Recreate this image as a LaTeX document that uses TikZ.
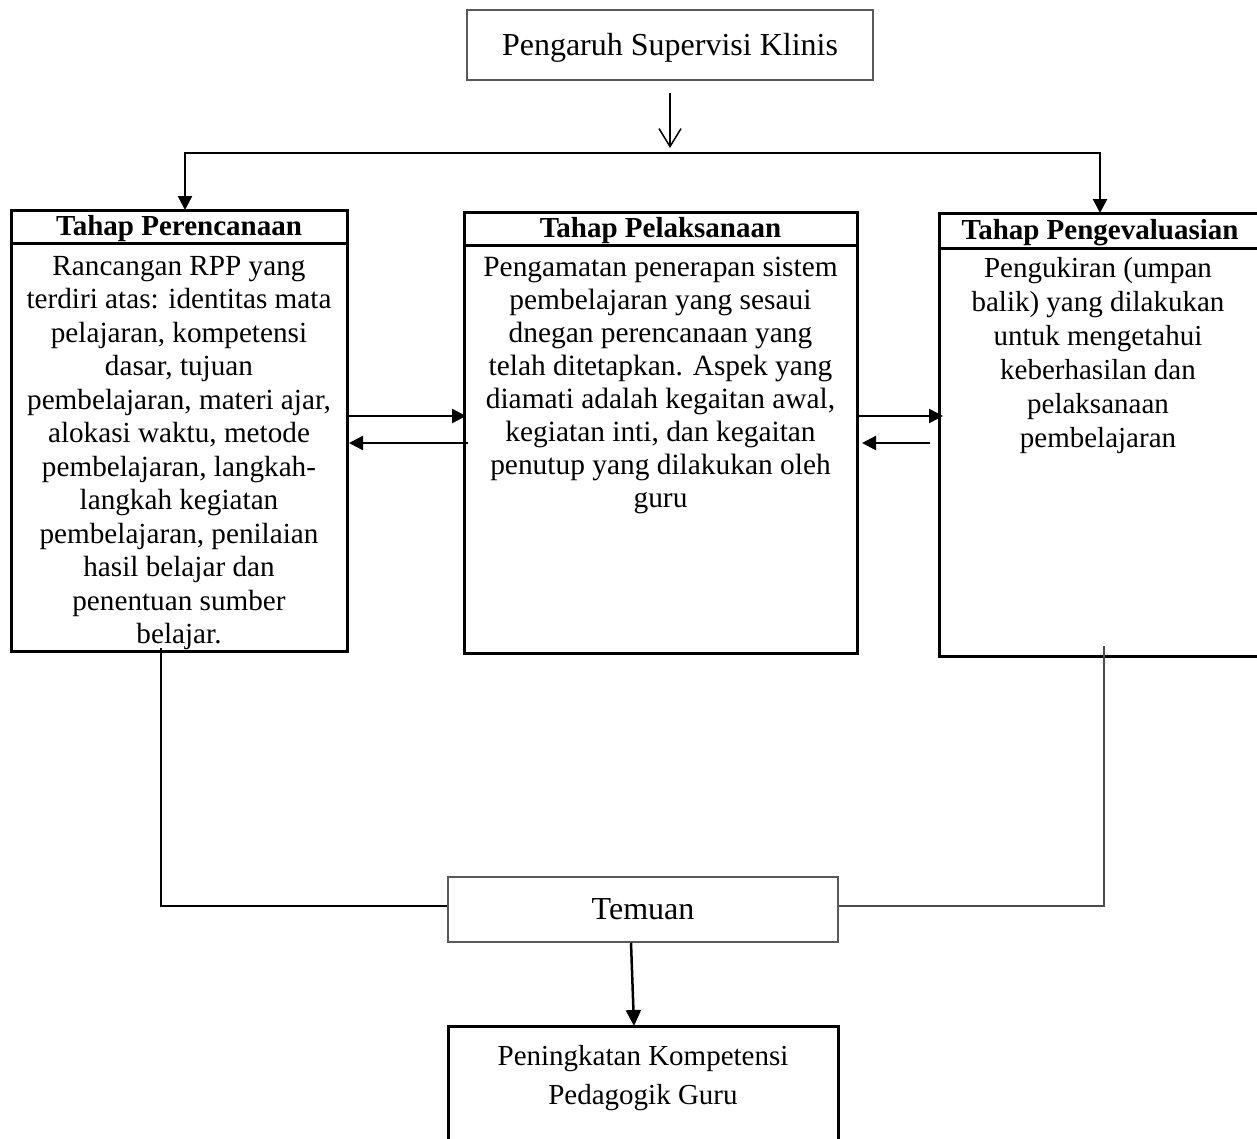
\documentclass[tikz,border=0pt]{standalone}
\usepackage{fontspec}
\setmainfont{Liberation Serif}
\usetikzlibrary{arrows.meta}
\begin{document}
\begin{tikzpicture}[x=1pt,y=-1pt,
  thickbox/.style={draw=black, line width=3pt, inner sep=0pt, outer sep=0pt},
  thinbox/.style={draw=black!65, line width=1.5pt, inner sep=0pt},
  body/.style={font=\fontsize{29.2}{33.5}\selectfont, align=center, inner sep=0pt},
  head/.style={font=\fontsize{29}{33.5}\selectfont\bfseries, text height=22pt, text depth=5pt},
  conn/.style={line width=2.5pt},
  tri/.style={-{Triangle[length=14pt,width=14pt]}},
]
\useasboundingbox (0,0) rectangle (1257,1138);

% title
\node[thinbox, minimum width=406pt, minimum height=70pt, font=\fontsize{32}{36}\selectfont, text height=24.4pt, text depth=4.4pt] (title) at (670,45) {Pengaruh Supervisi Klinis};

% left box
\node[thickbox, head, minimum width=336pt, minimum height=33pt] (planhead) at (179,226.5) {Tahap Perencanaan};
\node[thickbox, minimum width=336pt, minimum height=408pt, anchor=north] (plan) at (planhead.south) {};
\node[body, anchor=north] (plantext) at (179,256) {Rancangan RPP yang\\terdiri atas: identitas mata\\pelajaran, kompetensi\\dasar, tujuan\\pembelajaran, materi ajar,\\alokasi waktu, metode\\pembelajaran, langkah-\\langkah kegiatan\\pembelajaran, penilaian\\hasil belajar dan\\penentuan sumber\\belajar.};

% middle box
\node[thickbox, head, minimum width=393pt, minimum height=33pt] (midhead) at (660.5,228.5) {Tahap Pelaksanaan};
\node[thickbox, minimum width=393pt, minimum height=408pt, anchor=north] (mid) at (midhead.south) {};
\node[body, font=\fontsize{29.4}{33}\selectfont, anchor=north] (midtext) at (660.5,257) {Pengamatan penerapan sistem\\pembelajaran yang sesaui\\dnegan perencanaan yang\\telah ditetapkan. Aspek yang\\diamati adalah kegaitan awal,\\kegiatan inti, dan kegaitan\\penutup yang dilakukan oleh\\guru};

% right box
\node[thickbox, head, minimum width=322pt, minimum height=35pt] (evalhead) at (1100,230.5) {Tahap Pengevaluasian};
\node[thickbox, minimum width=322pt, minimum height=408pt, anchor=north] (eval) at (evalhead.south) {};
\node[body, font=\fontsize{29}{34}\selectfont, anchor=north] (evaltext) at (1098,257) {Pengukiran (umpan\\balik) yang dilakukan\\untuk mengetahui\\keberhasilan dan\\pelaksanaan\\pembelajaran};

% top connectors
\coordinate (hub) at (670,153);
\draw[line width=1.5pt, -{Straight Barb[length=18pt,width=22pt]}, shorten <=12pt, shorten >=5pt] (title.south) -- (hub);
\draw[conn, tri] (hub) -| ([xshift=6pt]planhead.north);
\draw[conn, tri] (hub) -| (evalhead.north);

% side arrows
\coordinate (ya) at (0,416);
\coordinate (yb) at (0,443);
\draw[conn, tri, shorten >=-2pt] (plan.east |- ya) -- (mid.west |- ya);
\draw[conn, tri, shorten <=-4pt, shorten >=2pt] (mid.west |- yb) -- (plan.east |- yb);
\draw[conn, tri, shorten >=-4pt] (mid.east |- ya) -- (eval.west |- ya);
\draw[conn, tri, shorten <=9pt, shorten >=5pt] (eval.west |- yb) -- (mid.east |- yb);

% temuan
\node[thinbox, minimum width=390pt, minimum height=65pt, font=\fontsize{32}{36}\selectfont] (temuan) at (643,909.5) {Temuan};
\coordinate (yt) at (0,906);
\draw[line width=1.8pt, shorten <=-3pt] ([xshift=-18pt]plan.south) |- (temuan.west |- yt);
\draw[line width=2pt, draw=black!70, shorten <=-10pt] ([xshift=4pt]eval.south) |- (temuan.east |- yt);

% outcome
\node[thickbox, minimum width=390pt, minimum height=124pt, anchor=north] (outcome) at (643,1026) {};
\node[font=\fontsize{29}{39}\selectfont, align=center, inner sep=0pt, anchor=north] (outtext) at (643,1045) {Peningkatan Kompetensi\\Pedagogik Guru};
\draw[conn, -{Triangle[length=16pt,width=15pt]}] ([xshift=-12pt]temuan.south) -- ([xshift=-9pt]outcome.north);
\end{tikzpicture}
\end{document}
